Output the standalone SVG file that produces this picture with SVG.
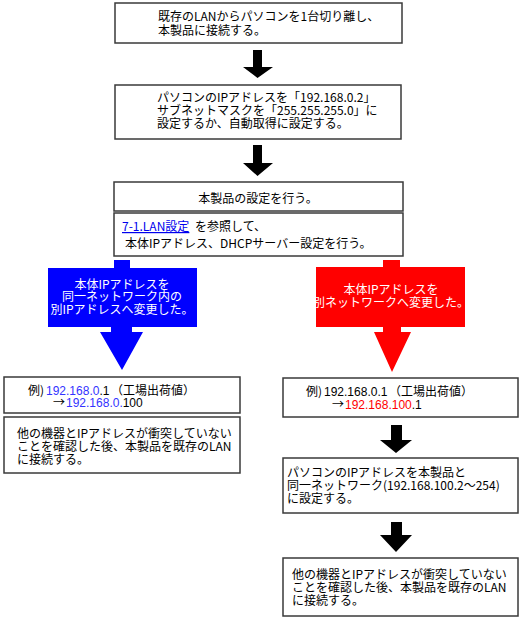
<svg xmlns="http://www.w3.org/2000/svg" width="522" height="630" viewBox="0 0 522 630">
<style>
.box{fill:#fff;stroke:#3a3a3a;stroke-width:1.5}
.t{font-family:"Noto Sans CJK JP","Liberation Sans",sans-serif;font-size:12px;fill:#000}
.n{font-family:"Liberation Sans","Noto Sans CJK JP",sans-serif;font-size:12px;fill:#000}
.w{fill:#fff}
.c{text-anchor:middle}
.blue{fill:#3333ff}
.red{fill:#ff0000}
.link{fill:#0000ee;text-decoration:underline}
.arr{fill:#000}
</style>
<rect width="522" height="630" fill="#fff"/>
<g id="connectors">
<polygon class="arr" points="253,50 262,50 262,67 273,67 257.5,78 243,67 253,67"/>
<polygon class="arr" points="253,145 262,145 262,163 273,163 257.5,176 243,163 253,163"/>
<polygon class="arr" points="391,425 402,425 402,440 412,440 396,453 380,440 391,440"/>
<polygon class="arr" points="391,522 402,522 402,535 412,535 396,552 380,535 391,535"/>
</g>
<g id="n1">
<rect class="box" x="115" y="3" width="287" height="40"/>
<text class="t" x="158" y="21">既存のLANからパソコンを1台切り離し、</text>
<text class="t" x="158" y="35">本製品に接続する。</text>
</g>
<g id="n2">
<rect class="box" x="115" y="85" width="286" height="54"/>
<text class="t" x="157" y="102">パソコンのIPアドレスを「192.168.0.2」</text>
<text class="t" x="157" y="115">サブネットマスクを「255.255.255.0」に</text>
<text class="t" x="157" y="128">設定するか、自動取得に設定する。</text>
</g>
<g id="n3">
<rect class="box" x="114" y="182" width="289" height="29"/>
<rect class="box" x="114" y="213" width="289" height="43"/>
<text class="t c" x="258" y="203">本製品の設定を行う。</text>
<text class="t link" x="122" y="231">7-1.LAN設定</text>
<text class="t" x="195" y="231">を参照して、</text>
<text class="t" x="125" y="248">本体IPアドレス、DHCPサーバー設定を行う。</text>
</g>
<g id="blue-branch">
<polygon fill="#0000ff" points="114,260 130,260 130,268 197,268 197,327 132,327 132,332 143,332 122,370 100,332 111,332 111,327 48,327 48,268 114,268"/>
<text class="t w c" x="122" y="289">本体IPアドレスを</text>
<text class="t w c" x="122" y="301">同一ネットワーク内の</text>
<text class="t w c" x="122" y="314">別IPアドレスへ変更した。</text>
</g>
<g id="red-branch">
<polygon fill="#ff0000" points="383,260 400,260 400,267 465,267 465,327 401,327 401,332 411,332 392,372 374,332 383,332 383,327 316,327 316,267 383,267"/>
<text class="t w c" x="391" y="294">本体IPアドレスを</text>
<text class="t w c" x="391" y="307">別ネットワークへ変更した。</text>
</g>
<g id="left1">
<rect class="box" x="4" y="377" width="236" height="36"/>
<text class="t" x="28" y="395">例)</text>
<text class="n blue" x="46" y="395">192.168.0</text>
<text class="n" x="99.4" y="395">.1</text>
<text class="t" x="111" y="395">（工場出荷値）</text>
<text class="t" x="53" y="407">→</text>
<text class="n blue" x="66" y="407">192.168.0.</text>
<text class="n" x="122.7" y="407">100</text>
</g>
<g id="left2">
<rect class="box" x="4" y="417" width="236" height="56"/>
<text class="t" x="17" y="438">他の機器とIPアドレスが衝突していない</text>
<text class="t" x="17" y="451">ことを確認した後、本製品を既存のLAN</text>
<text class="t" x="17" y="464">に接続する。</text>
</g>
<g id="right1">
<rect class="box" x="283" y="378" width="235" height="39"/>
<text class="t" x="306" y="396">例)</text>
<text class="n" x="324" y="396">192.168.0.1</text>
<text class="t" x="389" y="396">（工場出荷値）</text>
<text class="t" x="332" y="409">→</text>
<text class="n red" x="345" y="409">192.168.100</text>
<text class="n" x="411.7" y="409">.1</text>
</g>
<g id="right2">
<rect class="box" x="283" y="458" width="235" height="55"/>
<text class="t" x="287" y="477">パソコンのIPアドレスを本製品と</text>
<text class="t" x="287" y="490">同一ネットワーク(192.168.100.2～254)</text>
<text class="t" x="287" y="503">に設定する。</text>
</g>
<g id="right3">
<rect class="box" x="283" y="558" width="235" height="58"/>
<text class="t" x="292" y="579">他の機器とIPアドレスが衝突していない</text>
<text class="t" x="292" y="592">ことを確認した後、本製品を既存のLAN</text>
<text class="t" x="292" y="605">に接続する。</text>
</g>
</svg>
